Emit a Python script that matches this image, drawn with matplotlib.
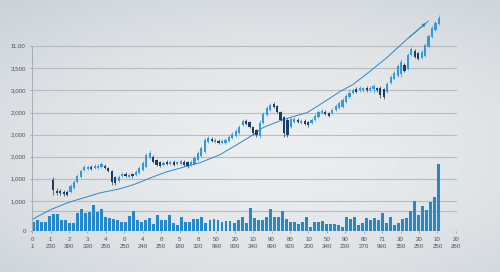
import numpy as np
import matplotlib

matplotlib.use('Agg')
import matplotlib.pyplot as plt

plt.rcParams['font.family'] = ['Liberation Sans', 'DejaVu Sans']

# volume bars, one per session (heights, px-ish units)
volume = [9, 11, 9, 9, 15, 17, 17, 11, 11, 8, 8, 18, 22, 18, 19, 26, 19, 22, 14, 13,
          12, 11, 9, 9, 15, 20, 11, 9, 11, 13, 7, 16, 11,
          11, 16, 8, 6, 14, 9, 9, 12, 12, 14, 8, 11, 12, 11, 9, 10, 10, 8, 11, 14,
          8, 23, 13, 11, 11, 14, 22, 14, 14, 20, 12, 9, 9, 7, 9, 14, 4, 9, 9, 10, 7,
          7, 7, 6, 4, 14, 12, 14, 6, 8, 13, 11, 13, 11, 18, 8, 14, 6, 8, 12, 13,
          20, 30, 16, 25, 21, 29, 34, 67]

# candles
c_open = [51, 40, 40, 39, 39, 39, 43, 49, 54, 61, 62, 64, 63, 63, 64, 65, 63, 60, 54, 50,
          55, 57, 54, 57, 56, 58, 61, 64, 73, 74, 71, 69, 66, 69, 67, 69, 67, 67, 69, 69,
          66, 67, 71, 75, 79, 89, 92, 89, 90, 88, 88, 90, 93, 95, 98, 106, 110, 109, 104, 101,
          95, 108, 116, 121, 127, 125, 119, 114, 111, 104, 109, 111, 108, 110, 109, 108, 111, 114, 118, 119,
          118, 118, 121, 123, 124, 129, 134, 138, 141, 140, 140, 142, 140, 141, 142, 142, 141, 139, 147, 151,
          154, 156, 165, 161, 175, 179, 177, 172, 174, 183, 193, 200, 206]
c_close = [41, 38, 38, 37, 36, 45, 49, 55, 60, 64, 64, 62, 65, 65, 67, 63, 60, 49, 48, 54,
           57, 55, 56, 55, 59, 63, 68, 76, 78, 69, 66, 65, 68, 67, 69, 66, 69, 70, 66, 65,
           69, 73, 78, 83, 91, 93, 90, 91, 88, 90, 91, 94, 97, 100, 104, 110, 107, 104, 98, 96,
           108, 117, 123, 126, 124, 119, 111, 98, 96, 112, 112, 109, 110, 107, 106, 111, 115, 119, 120, 117,
           115, 121, 125, 128, 131, 135, 138, 140, 139, 142, 142, 140, 142, 144, 140, 136, 134, 146, 153, 157,
           164, 168, 159, 175, 181, 173, 171, 178, 185, 194, 202, 207, 212]
c_high = [54, 43, 42, 41, 41, 47, 51, 57, 62, 66, 66, 66, 67, 67, 69, 67, 64, 61, 55, 56,
          59, 59, 58, 58, 61, 65, 70, 78, 81, 76, 72, 70, 70, 71, 71, 71, 70, 72, 71, 70,
          71, 75, 80, 85, 93, 95, 94, 93, 92, 92, 93, 96, 99, 102, 106, 112, 112, 110, 105, 102,
          111, 119, 125, 128, 129, 126, 120, 115, 113, 114, 114, 113, 112, 112, 110, 113, 117, 121, 122, 121,
          119, 123, 127, 130, 133, 137, 140, 142, 143, 144, 143, 144, 144, 146, 143, 144, 142, 148, 155, 159,
          166, 171, 167, 177, 183, 181, 178, 180, 187, 196, 204, 209, 215]
c_low = [36, 36, 36, 35, 35, 38, 42, 48, 53, 60, 61, 61, 62, 62, 63, 62, 59, 46, 46, 49,
         54, 54, 53, 53, 55, 57, 60, 63, 72, 68, 65, 64, 65, 66, 66, 65, 66, 66, 65, 63,
         65, 66, 70, 74, 78, 88, 89, 88, 87, 87, 87, 89, 92, 94, 97, 105, 106, 103, 96, 94,
         93, 107, 115, 120, 123, 118, 110, 94, 94, 103, 108, 108, 107, 106, 104, 107, 110, 113, 117, 116,
         114, 117, 120, 122, 123, 128, 133, 137, 138, 139, 139, 139, 139, 138, 139, 133, 132, 138, 146, 150,
         153, 153, 158, 160, 174, 172, 170, 171, 173, 182, 192, 199, 205]

# trend line (session index, value)
trend_x = [0, 4.2, 8.5, 11.7, 16.7, 21.6, 24.9, 29.9, 33.3, 41.5, 46.5, 50.7, 54, 57.2,
           62.2, 68.2, 71.4, 76.4, 79.6, 83.8, 88.1, 93.0, 98.3]
trend_y = [12, 21, 28, 32, 38, 42, 46, 54, 59, 68, 76, 86, 94, 103,
           111, 118, 126, 139, 146, 159, 173, 191, 209]

x_top = ['0', '1', '2', '3', '4', '0', '4', '8', '5', '8', '50', '20', '10', '90',
         '80', '10', '50', '90', '80', '71', '30', '20', '10', '20']
x_bottom = ['1', '230', '390', '330', '250', '250', '240', '250', '180', '320', '990', '930',
            '340', '990', '920', '200', '340', '230', '270', '990', '350', '250', '250', '260']

y_ticks = [0, 30, 52, 74, 96, 118, 140, 162, 184]
y_labels = ['0', '1,000', '1,000', '2,000', '2,000', '2,000', '3,000', '3,500', '11.00']

BAR = '#2588c9'
UP = '#3399da'
DOWN = '#1d3c66'
TEXT = '#4d5257'

fig = plt.figure(figsize=(5, 2.72), dpi=100)

# soft grey vignette background
bg = fig.add_axes([0, 0, 1, 1], zorder=-10)
yy, xx = np.mgrid[0:1:272j, 0:1:500j]
r = np.clip(np.sqrt(((xx - 0.55) / 0.85) ** 2 + ((yy - 0.55) / 0.75) ** 2), 0, 1)
center = np.array([0.925, 0.935, 0.94])
edge = np.array([0.79, 0.815, 0.835])
img = center + (edge - center) * (r[..., None] ** 1.6)
bg.imshow(img, aspect='auto', extent=[0, 1, 0, 1], origin='upper')
bg.axis('off')

ax = fig.add_axes([0.064, 0.151, 0.85, 0.815])
ax.patch.set_alpha(0)

n = len(volume)
xb = np.arange(n)
ax.bar(xb, volume, width=0.72, color=BAR, zorder=2)

xc = np.linspace(5, n - 1, len(c_open))
o = np.array(c_open)
c = np.array(c_close)
cols = [UP if cc >= oo else DOWN for oo, cc in zip(o, c)]
ax.vlines(xc, c_low, c_high, colors=cols, lw=0.5, zorder=4)
body = np.maximum(np.abs(c - o), 1.2)
ax.bar(xc, body, bottom=np.minimum(o, c), width=0.55, color=cols, zorder=5)

ax.plot(trend_x, trend_y, color='#2e88c6', lw=0.7, zorder=3)
ax.annotate('', xy=(trend_x[-1], trend_y[-1]), xytext=(trend_x[-2], trend_y[-2]),
            arrowprops=dict(arrowstyle='-|>', color='#2e88c6', lw=0.7, mutation_scale=5),
            zorder=3)

for yv in y_ticks[1:] + [20]:
    ax.axhline(yv, color='#b7bcc1', lw=0.8, zorder=1)
ax.axhline(0, color='#a9aeb3', lw=0.8, zorder=1)

ax.set_xlim(-0.3, 105.5)
ax.set_ylim(0, 221)
ax.set_yticks(y_ticks)
ax.set_yticklabels(y_labels)
ax.set_xticks(np.linspace(-0.25, 105.2, 24))
ax.set_xticklabels([f'{a}\n{b}' for a, b in zip(x_top, x_bottom)], linespacing=1.55)
ax.tick_params(axis='both', labelsize=4.4, colors='#9aa0a5', labelcolor=TEXT,
               length=1.5, width=0.6, pad=3)

for s in ['top', 'right', 'bottom']:
    ax.spines[s].set_visible(False)
ax.spines['left'].set_color('#a8adb2')
ax.spines['left'].set_linewidth(0.7)
ax.spines['left'].set_bounds(0, 184)

fig.savefig('out.png', dpi=100)
